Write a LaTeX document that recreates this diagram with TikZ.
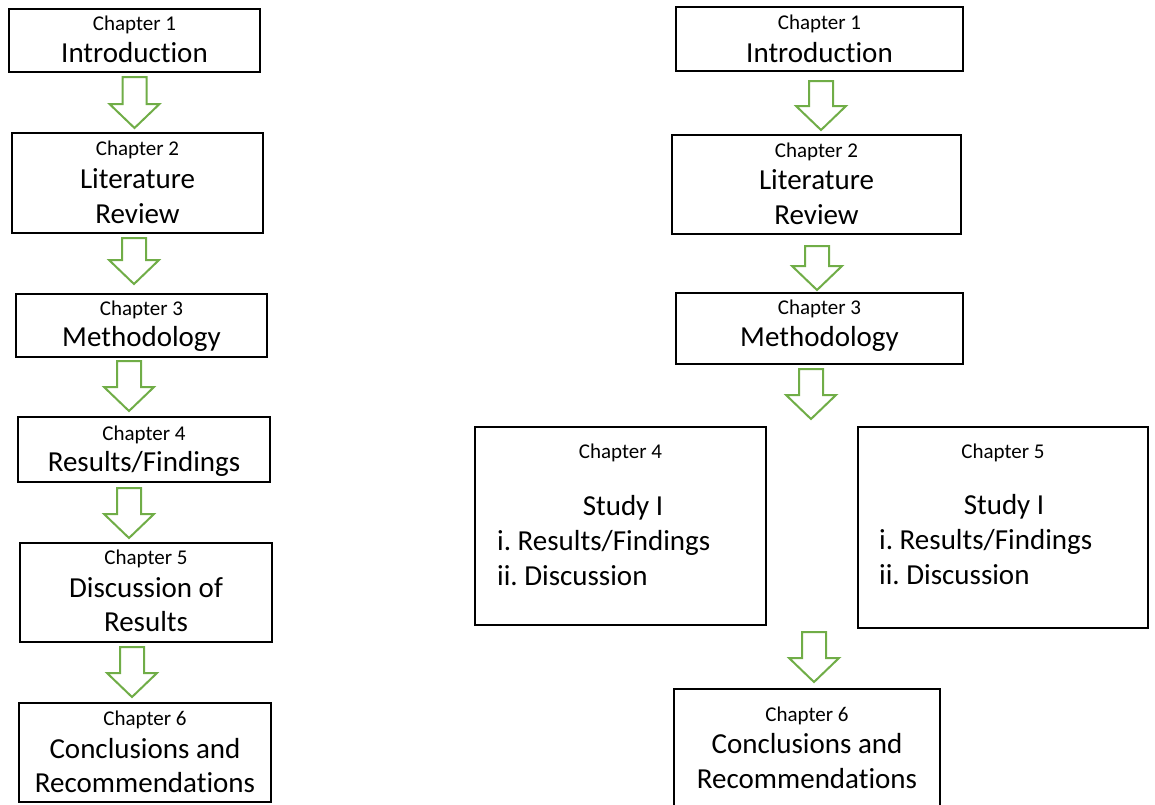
\documentclass[tikz,border=0pt]{standalone}
\usepackage{fontspec}
\setmainfont{Carlito}[RawFeature={-liga;-clig;-dlig;-calt;-rlig}]
\frenchspacing
\usetikzlibrary{fit}
\definecolor{arrowgreen}{HTML}{70AD47}
\tikzset{
  box/.style={draw=black, line width=2pt, inner sep=0pt},
  blk/.style={draw=arrowgreen, line width=2pt, fill=white, line join=miter},
  small/.style={font=\fontsize{21}{25}\selectfont, anchor=base, inner sep=0pt},
  big/.style={font=\fontsize{29}{35}\selectfont, anchor=base, inner sep=0pt},
  bigl/.style={big, anchor=base west},
}
\newcommand\greenarrow[3]{% cx, top, tip
  \draw[blk] (#1-12,#2) -- (#1+12,#2) -- (#1+12,#3-24) -- (#1+25,#3-24)
    -- (#1,#3) -- (#1-25,#3-24) -- (#1-12,#3-24) -- cycle;}
\begin{document}
\begin{tikzpicture}[x=1pt,y=-1pt]
\useasboundingbox (0,0) rectangle (1155,804);
\begin{scope}
\clip (0,0) rectangle (1155,804);
% ---------- left column ----------
\node[box, fit={(9,9) (260,72)}] (L1) {};
\node[small] (L1a) at (134.5,30) {Chapter 1};
\node[big] (L1b) at (134.5,62) {Introduct\kern0pt ion};

\node[box, fit={(12,133) (263,233)}] (L2) {};
\node[small] (L2a) at (137.5,155) {Chapter 2};
\node[big] (L2b) at (137.5,188) {Literature};
\node[big] (L2c) at (137.5,223) {Review};

\node[box, fit={(16,294) (267,357)}] (L3) {};
\node[small] (L3a) at (141.5,315) {Chapter 3};
\node[big] (L3b) at (141.5,346) {Methodology};

\node[box, fit={(18,417) (270,482)}] (L4) {};
\node[small] (L4a) at (144,440) {Chapter 4};
\node[big] (L4b) at (144,471) {Results/Findings};

\node[box, fit={(20,543) (272,642)}] (L5) {};
\node[small] (L5a) at (146,564) {Chapter 5};
\node[big] (L5b) at (146,597) {Discussion of};
\node[big] (L5c) at (146,631) {Results};

\node[box, fit={(19,703) (271,802)}] (L6) {};
\node[small] (L6a) at (145,725) {Chapter 6};
\node[big] (L6b) at (145,758) {Conclusions and};
\node[big] (L6c) at (145,792) {Recommendat\kern0pt ions};

\greenarrow{134.5}{77}{128}
\greenarrow{134}{238}{284}
\greenarrow{129}{361}{411}
\greenarrow{129}{488}{538}
\greenarrow{132}{647}{697}

% ---------- right column ----------
\node[box, fit={(676,7) (963,71)}] (R1) {};
\node[small] (R1a) at (819.5,29) {Chapter 1};
\node[big] (R1b) at (819.5,62) {Introduct\kern0pt ion};

\node[box, fit={(672,135) (961,234)}] (R2) {};
\node[small] (R2a) at (816.5,157) {Chapter 2};
\node[big] (R2b) at (816.5,189) {Literature};
\node[big] (R2c) at (816.5,224) {Review};

\node[box, fit={(676,293) (963,364)}] (R3) {};
\node[small] (R3a) at (819.5,314) {Chapter 3};
\node[big] (R3b) at (819.5,346) {Methodology};

\node[box, fit={(475,427) (766,625)}] (R4) {};
\node[small] (R4a) at (620.5,458) {Chapter 4};
\node[big] (R4b) at (623,515) {Study I};
\node[bigl] (R4c) at (497,550) {i. Results/Findings};
\node[bigl] (R4d) at (497,585) {ii. Discussion};

\node[box, fit={(858,427) (1148,628)}] (R5) {};
\node[small] (R5a) at (1003,458) {Chapter 5};
\node[big] (R5b) at (1004,514) {Study I};
\node[bigl] (R5c) at (879,549) {i. Results/Findings};
\node[bigl] (R5d) at (879,584) {ii. Discussion};

\node[box, fit={(674,689) (940,830)}] (R6) {};
\node[small] (R6a) at (807,721) {Chapter 6};
\node[big] (R6b) at (807,753) {Conclusions and};
\node[big] (R6c) at (807,788) {Recommendat\kern0pt ions};

\greenarrow{821}{81}{130}
\greenarrow{817}{246}{290}
\greenarrow{811}{369}{419}
\greenarrow{814}{632}{682}
\end{scope}
\end{tikzpicture}
\end{document}
